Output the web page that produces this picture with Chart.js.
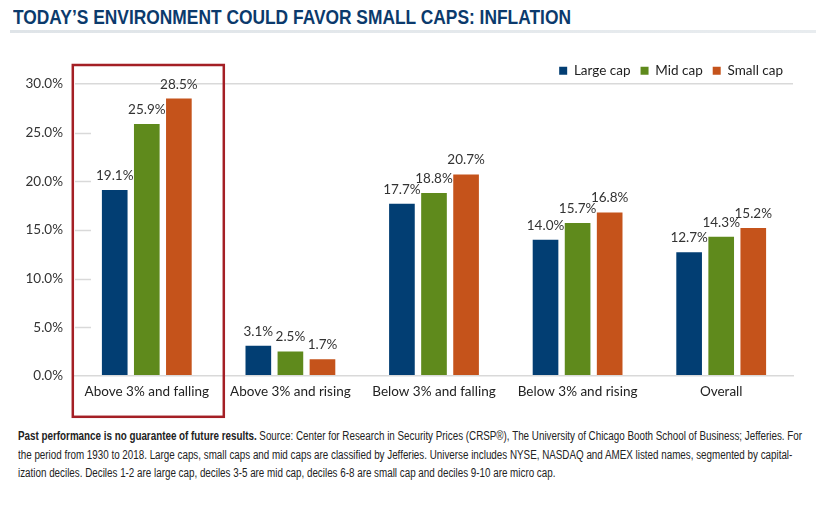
<!DOCTYPE html>
<html>
<head>
<meta charset="utf-8">
<script src="https://cdn.jsdelivr.net/npm/chart.js@4"></script>
<style>
  html, body { margin: 0; padding: 0; background: #fff; }
  body { width: 820px; height: 513px; position: relative; overflow: hidden; }
  #title { position: absolute; left: 13px; top: 5px; font-family: "Liberation Sans", Arial, sans-serif; font-weight: bold; font-size: 19.5px; line-height: 24px; color: #0b3a6c; white-space: nowrap; transform-origin: 0 0; }
  #rule { position: absolute; left: 10px; top: 30px; width: 806px; height: 3px; background: linear-gradient(to right, #dfe4e8, #e8ecef); }
  #wrap { position: absolute; left: 0; top: 40px; width: 820px; height: 385px; }
  #note { position: absolute; left: 18px; top: 427px; font-family: "Liberation Sans", Arial, sans-serif; font-size: 12px; line-height: 18.5px; color: #222; white-space: nowrap; transform-origin: 0 0; }
  #note span { display: inline-block; }
</style>
</head>
<body>
<div id="title">TODAY’S ENVIRONMENT COULD FAVOR SMALL CAPS: INFLATION</div>
<div id="rule"></div>
<div id="wrap"><canvas id="c"></canvas></div>
<div id="note"><span id="l1"><b>Past performance is no guarantee of future results.</b> Source: Center for Research in Security Prices (CRSP®), The University of Chicago Booth School of Business; Jefferies. For</span><br><span>the period from 1930 to 2018. Large caps, small caps and mid caps are classified by Jefferies. Universe includes NYSE, NASDAQ and AMEX listed names, segmented by capital-</span><br><span>ization deciles. Deciles 1-2 are large cap, deciles 3-5 are mid cap, deciles 6-8 are small cap and deciles 9-10 are micro cap.</span></div>
<script>
const categories = ["Above 3% and falling", "Above 3% and rising", "Below 3% and falling", "Below 3% and rising", "Overall"];
const seriesNames = ["Large cap", "Mid cap", "Small cap"];
const largeCap = [19.1, 3.1, 17.7, 14.0, 12.7];
const midCap = [25.9, 2.5, 18.8, 15.7, 14.3];
const smallCap = [28.5, 1.7, 20.7, 16.8, 15.2];
const yTicks = [0, 5, 10, 15, 20, 25, 30];

// condense title and footnote to the reference widths
(function () {
  const t = document.getElementById("title");
  const tw = t.getBoundingClientRect().width;
  t.style.transform = "scaleX(" + (558 / tw) + ")";
  const l1 = document.getElementById("l1");
  const nw = l1.getBoundingClientRect().width;
  document.getElementById("note").style.transform = "scaleX(" + (784 / nw) + ")";
})();

const FONT = "Lato, 'Open Sans', sans-serif";
const colors = ["#023e73", "#5f8a1c", "#c5531b"];
const GRID = "#d9d9d9";

const legendHeight = {
  id: "legendHeight",
  beforeInit(chart) {
    const fit = chart.legend.fit;
    chart.legend.fit = function () {
      fit.bind(chart.legend)();
      this.height = 30;
    };
  }
};

const valueLabels = {
  id: "valueLabels",
  afterDatasetsDraw(chart) {
    const ctx = chart.ctx;
    ctx.save();
    ctx.font = "13.5px " + FONT;
    ctx.fillStyle = "#333";
    ctx.textAlign = "center";
    ctx.textBaseline = "alphabetic";
    chart.data.datasets.forEach((ds, di) => {
      const meta = chart.getDatasetMeta(di);
      meta.data.forEach((bar, i) => {
        ctx.fillText(ds.data[i].toFixed(1) + "%", bar.x, bar.y - 10);
      });
    });
    ctx.restore();
  }
};

const tickMarks = {
  id: "tickMarks",
  afterDraw(chart) {
    const ctx = chart.ctx, y = chart.scales.y, a = chart.chartArea, x = chart.scales.x;
    ctx.save();
    ctx.strokeStyle = GRID;
    ctx.lineWidth = 1.5;
    yTicks.forEach(v => {
      if (v === 0 || v === 30) return;
      const py = Math.round(y.getPixelForValue(v)) + 0.5;
      ctx.beginPath();
      ctx.moveTo(a.left, py);
      ctx.lineTo(a.left + 16, py);
      ctx.stroke();
    });
    // highlight box around first category
    const cx = x.getPixelForValue(0);
    const top = y.getPixelForValue(30) - 19;
    ctx.strokeStyle = "#a41f25";
    ctx.lineWidth = 2.5;
    ctx.strokeRect(cx - 74, top, 151, a.bottom + 41 - top);
    ctx.restore();
  }
};

new Chart(document.getElementById("c"), {
  type: "bar",
  data: {
    labels: categories,
    datasets: [
      { label: seriesNames[0], data: largeCap, backgroundColor: colors[0] },
      { label: seriesNames[1], data: midCap, backgroundColor: colors[1] },
      { label: seriesNames[2], data: smallCap, backgroundColor: colors[2] }
    ]
  },
  options: {
    responsive: true,
    maintainAspectRatio: false,
    animation: false,
    devicePixelRatio: 1,
    layout: { padding: { left: 0, right: 27, top: 14, bottom: 17 } },
    datasets: { bar: { categoryPercentage: 0.67, barPercentage: 0.8 } },
    plugins: {
      legend: {
        position: "top",
        align: "end",
        labels: {
          font: { family: FONT, size: 13.5 },
          color: "#222",
          boxWidth: 8,
          boxHeight: 8,
          padding: 10
        }
      },
      tooltip: { enabled: false }
    },
    scales: {
      x: {
        grid: { display: false, drawTicks: false },
        border: { display: true, color: GRID, width: 1.5 },
        ticks: { font: { family: FONT, size: 13.5 }, color: "#222", padding: 8, maxRotation: 0 }
      },
      y: {
        min: 0, max: 30,
        afterFit(scale) { scale.width = 75; },
        afterBuildTicks(scale) { scale.ticks = yTicks.map(v => ({ value: v })); },
        grid: {
          drawTicks: false,
          color: ctx => (ctx.tick && ctx.tick.value === 30) ? GRID : "transparent",
          lineWidth: 1.5
        },
        border: { display: false },
        ticks: {
          font: { family: FONT, size: 13.5 },
          color: "#333",
          padding: 12,
          callback: v => v.toFixed(1) + "%"
        }
      }
    }
  },
  plugins: [legendHeight, valueLabels, tickMarks]
});
</script>
</body>
</html>
